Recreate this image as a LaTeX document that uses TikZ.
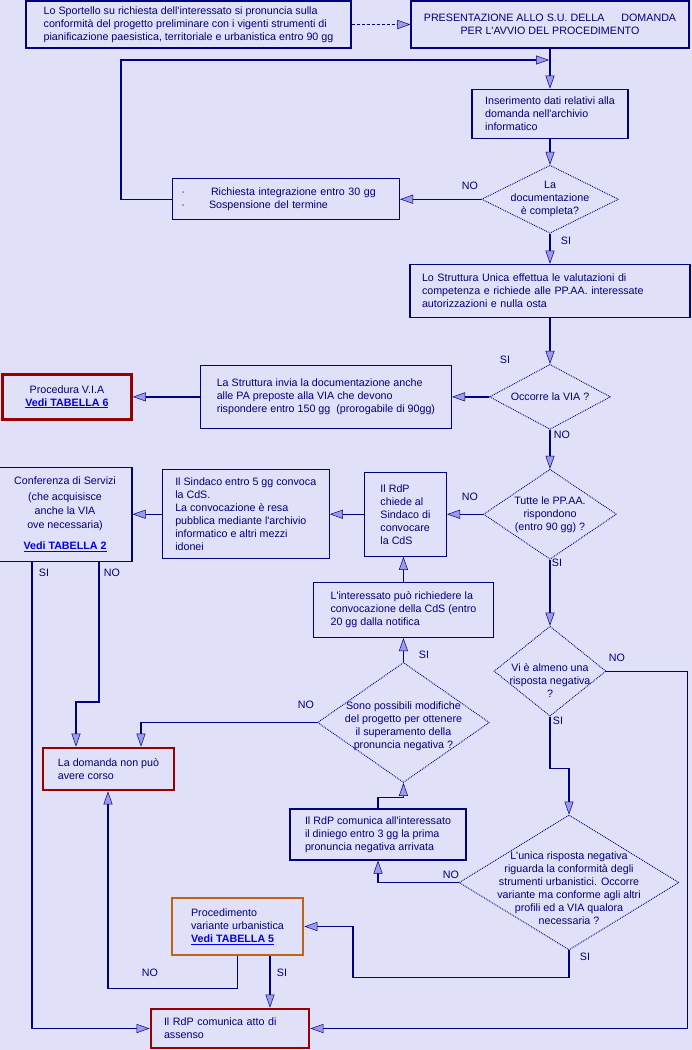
\documentclass[tikz,border=0pt]{standalone}
\usepackage{fontspec}
\setmainfont{Liberation Sans}
\usetikzlibrary{shapes.geometric,arrows.meta,positioning}
\definecolor{bgblue}{RGB}{224,224,248}
\definecolor{navy}{RGB}{0,0,128}
\definecolor{tipblue}{RGB}{155,155,238}
\definecolor{boxred}{RGB}{150,0,0}
\definecolor{boxorange}{RGB}{190,100,20}
\definecolor{linkblue}{RGB}{0,0,238}
\newcommand{\tabella}[1]{\textcolor{linkblue}{\underline{\textbf{#1}}}}
\newcommand{\ap}{\textquotesingle}

\begin{document}
\begin{tikzpicture}[x=1pt, y=-1pt,
        every node/.style={font=\fontsize{10.7}{13}\selectfont, text=navy},
        box/.style={draw=navy, fill=bgblue, line width=1.2pt, inner sep=0pt, align=left},
        redbox/.style={box, draw=boxred, line width=2.8pt},
        orangebox/.style={box, draw=boxorange, line width=2.8pt},
        decision/.style={diamond, draw=navy, densely dotted, line width=0.9pt, inner sep=0pt},
        ask/.style={align=center, inner sep=0pt},
        answer/.style={inner sep=0pt},
        flow/.style={draw=navy, line width=1.3pt, -{Triangle[length=13pt, width=9pt, fill=tipblue, line width=0.5pt]}}]
        \fill[bgblue] (0,0) rectangle (692,1050);
        \useasboundingbox (0,0) rectangle (692,1050);

        \node[box, minimum width=325pt, minimum height=47pt] (sport) at (188.5,24.5) {Lo Sportello su richiesta dell\ap interessato si pronuncia sulla\\conformità del progetto preliminare con i vigenti strumenti di\\pianificazione paesistica, territoriale e urbanistica entro 90 gg};
        \node[box, minimum width=278pt, minimum height=47pt, align=center] (pres) at (550,24.5) {PRESENTAZIONE ALLO S.U. DELLA\hspace{17pt}DOMANDA\\PER L\ap AVVIO DEL PROCEDIMENTO};
        \node[box, below=40pt of pres, minimum width=156pt, minimum height=49pt] (ins) {Inserimento dati relativi alla\\domanda nell\ap archivio\\informatico};
        \node[decision, below=26pt of ins, minimum width=137pt, minimum height=68pt] (doc) {};
        \node[ask] (doc-t) at (doc) {La\\documentazione\\è completa?};
        \node[box, left=81pt of doc, minimum width=227pt, minimum height=41pt, text width=209pt] (integr) {\textperiodcentered\hspace{26pt}Richiesta integrazione entro 30 gg\\\textperiodcentered\hspace{24pt}Sospensione del termine};
        \node[box, below=30pt of doc, minimum width=280pt, minimum height=53pt, text width=256pt] (su) {Lo Struttura Unica effettua le valutazioni di\\competenza e richiede alle PP.AA. interessate\\autorizzazioni e nulla osta};
        \node[decision, below=46pt of su, minimum width=121pt, minimum height=65pt] (via) {};
        \node[ask] (via-t) at (via) {Occorre la VIA ?};
        \node[box, left=37pt of via, minimum width=251pt, minimum height=63pt] (invia) {La Struttura invia la documentazione anche\\alle PA preposte alla VIA che devono\\rispondere entro 150 gg~ (prorogabile di 90gg)};
        \node[redbox, left=67pt of invia, minimum width=129pt, minimum height=45pt, align=center] (tab6) {Procedura V.I.A\\\tabella{Vedi TABELLA 6}};
        \node[decision, below=39pt of via, minimum width=133pt, minimum height=90pt] (tutte) {};
        \node[ask] (tutte-t) at (tutte) {Tutte le PP.AA.\\rispondono\\(entro 90 gg) ?};
        \node[box, left=36pt of tutte, minimum width=82pt, minimum height=84pt] (chiede) {Il RdP\\chiede al\\Sindaco di\\convocare\\la CdS};
        \node[box, left=34pt of chiede, minimum width=167pt, minimum height=89pt] (sindaco) {Il Sindaco entro 5 gg convoca\\la CdS.\\La convocazione è resa\\pubblica mediante l\ap archivio\\informatico e altri mezzi\\idonei};
        \node[box, left=29pt of sindaco, minimum width=134pt, minimum height=94pt, align=center] (cds) {Conferenza di Servizi\\[3pt](che acquisisce\\[1pt]anche la VIA\\[1pt]ove necessaria)\\[8pt]\tabella{Vedi TABELLA 2}};
        \node[decision, below=66pt of tutte, minimum width=112pt, minimum height=90pt] (neg) {};
        \node[ask] (neg-t) at ([yshift=-9pt]neg) {Vi è almeno una\\risposta negativa\\?};
        \node[box, below=25pt of chiede, xshift=-2pt, minimum width=180pt, minimum height=55pt] (rich) {L\ap interessato può richiedere la\\convocazione della CdS (entro\\20 gg dalla notifica};
        \node[decision, below=24pt of rich, minimum width=172pt, minimum height=120pt] (modif) {};
        \node[ask] (modif-t) at ([yshift=-4pt]modif) {Sono possibili modifiche\\del progetto per ottenere\\il superamento della\\pronuncia negativa ?};
        \node[redbox, minimum width=131pt, minimum height=42pt] (noncorso) at (108.5,769) {La domanda non può\\avere corso};
        \node[box, minimum width=176pt, minimum height=51pt] (diniego) at (378,834.5) {Il RdP comunica all\ap interessato\\il diniego entro 3 gg la prima\\pronuncia negativa arrivata};
        \node[decision, minimum width=220pt, minimum height=135pt] (unica) at (569,882.5) {};
        \node[ask] (unica-t) at ([yshift=-6pt]unica) {L\ap unica risposta negativa\\riguarda la conformità degli\\strumenti urbanistici. Occorre\\variante ma conforme agli altri\\profili ed a VIA qualora\\necessaria ?};
        \node[orangebox, minimum width=131pt, minimum height=57pt] (var) at (237.5,926.5) {Procedimento\\variante urbanistica\\\tabella{Vedi TABELLA 5}};
        \node[redbox, minimum width=158pt, minimum height=39pt, text width=132pt] (assenso) at (230,1028.5) {Il RdP comunica atto di\\assenso};
        \coordinate (rientro) at (549,60);

        \node[answer] (doc-no) at (470,186) {NO};
        \node[answer] (doc-si) at (566,241) {SI};
        \node[answer] (via-si) at (505,360) {SI};
        \node[answer] (via-no) at (562,435) {NO};
        \node[answer] (tutte-no) at (470,497) {NO};
        \node[answer] (tutte-si) at (557,563) {SI};
        \node[answer] (cds-si) at (44,573) {SI};
        \node[answer] (cds-no) at (112,573) {NO};
        \node[answer] (neg-no) at (617,658) {NO};
        \node[answer] (neg-si) at (558,721) {SI};
        \node[answer] (modif-si) at (424,655) {SI};
        \node[answer] (modif-no) at (306,705) {NO};
        \node[answer] (unica-no) at (451,875) {NO};
        \node[answer] (unica-si) at (585,957) {SI};
        \node[answer] (var-no) at (150,973) {NO};
        \node[answer] (var-si) at (282,973) {SI};

        \draw[flow, dash pattern=on 3pt off 2pt] (sport) -- (pres);
        \draw[flow] (pres) -- (ins);
        \draw[flow] (integr.west) -- ++(-51,0) |- (rientro);
        \draw[flow] (ins) -- (doc);
        \draw[flow] (doc) -- (integr);
        \draw[flow] (doc) -- (su);
        \draw[flow] (su) -- (via);
        \draw[flow] (via) -- (invia);
        \draw[flow] (invia) -- (tab6);
        \draw[flow] (via) -- (tutte);
        \draw[flow] (tutte) -- (chiede);
        \draw[flow] (chiede) -- (sindaco);
        \draw[flow] (sindaco) -- (cds);
        \draw[flow] (rich) -- (rich.north |- chiede.south);
        \draw[flow] (modif) -- (rich);
        \draw[flow] (tutte) -- (neg);
        \draw[flow] ([xshift=-33pt]cds.south) |- (assenso.west);
        \draw[flow] ([xshift=34pt]cds.south) -- ++(0,140) -| ([xshift=-32.5pt]noncorso.north);
        \draw[flow] (modif.west) -| ([xshift=32.5pt]noncorso.north);
        \draw[flow] (neg.east) -- ++(81,0) |- (assenso.east);
        \draw[flow] (neg.south) -- ++(0,52) -| (unica.north);
        \draw[flow] (unica.west) -| (diniego.south);
        \draw[flow] (diniego.north) -- ++(0,-11) -| (modif.south);
        \draw[flow] (unica.south) -- ++(0,27) -- ++(-216,0) |- (var.east);
        \draw[flow] (var.south) -- ++(0,32) -| ([xshift=-0.5pt]noncorso.south);
        \draw[flow] ([xshift=32.5pt]var.south) -- ([xshift=40pt]assenso.north);
    \end{tikzpicture}
\end{document}
